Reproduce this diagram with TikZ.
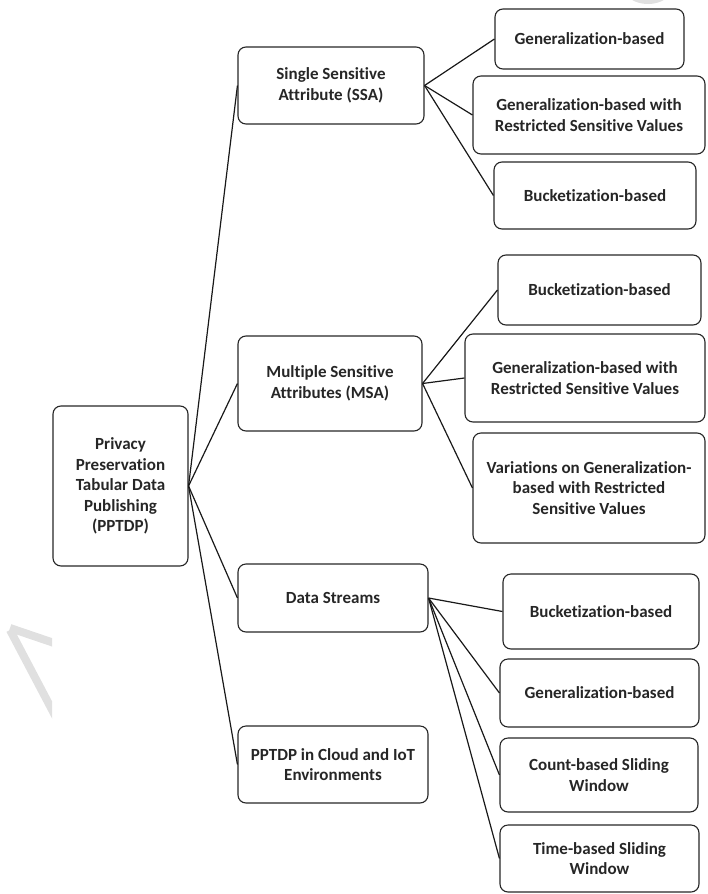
\documentclass[tikz,border=0pt]{standalone}
\usepackage{fontspec}
\setmainfont{Carlito}[Ligatures=NoCommon]
\begin{document}
\begin{tikzpicture}[x=1pt,y=-1pt,
  box/.style={draw=black!85,line width=1.1pt,rounded corners=8pt,inner sep=0pt,
    align=center,font=\fontsize{17}{20.5}\selectfont\bfseries,text=black!85},
  link/.style={draw=black!90,line width=1.2pt},
  wm/.style={draw=black!12,line width=8pt}]
\useasboundingbox (0,0) rectangle (707,894);
% faint watermark traces
\begin{scope}
\clip (0,560) rectangle (52,740);
\draw[wm] (10,630) -- (60,725);
\draw[wm] (10,628) -- (60,645);
\end{scope}
\begin{scope}
\clip (600,0) rectangle (707,12);
\draw[wm] (648,-30) circle[radius=30];
\end{scope}
% nodes
\node[box,minimum width=135pt,minimum height=160pt] (root) at (120.5,486) {Privacy\\Preservation\\Tabular Data\\Publishing\\(PPTDP)};
\node[box,minimum width=186pt,minimum height=77pt] (ssa) at (331,85.5) {Single Sensitive\\Attribute (SSA)};
\node[box,minimum width=184pt,minimum height=95pt] (msa) at (330,383.5) {Multiple Sensitive\\Attributes (MSA)};
\node[box,minimum width=190pt,minimum height=68pt] (ds) at (333,598) {Data Streams};
\node[box,minimum width=190pt,minimum height=77pt] (cloud) at (333,764.5) {PPTDP in Cloud and IoT\\Environments};
\node[box,minimum width=189pt,minimum height=60pt] (g1) at (589.5,39) {Generalization-based};
\node[box,minimum width=232pt,minimum height=78pt] (g2) at (589,115) {Generalization-based with\\Restricted Sensitive Values};
\node[box,minimum width=202pt,minimum height=67pt] (b1) at (595,195.5) {Bucketization-based};
\node[box,minimum width=203pt,minimum height=70pt] (b2) at (599.5,290) {Bucketization-based};
\node[box,minimum width=240pt,minimum height=88pt] (g3) at (585,378) {Generalization-based with\\Restricted Sensitive Values};
\node[box,minimum width=232pt,minimum height=110pt] (v) at (589,488) {Variations on Generalization-\\based with Restricted\\Sensitive Values};
\node[box,minimum width=196pt,minimum height=75pt] (b3) at (601,611.5) {Bucketization-based};
\node[box,minimum width=199pt,minimum height=68pt] (g4) at (599.5,693) {Generalization-based};
\node[box,minimum width=198pt,minimum height=74pt] (c) at (599,775) {Count-based Sliding\\Window};
\node[box,minimum width=199pt,minimum height=67pt] (t) at (599.5,858.5) {Time-based Sliding\\Window};
% connectors
\foreach \n in {ssa,msa,ds,cloud} \draw[link] (root.east) -- (\n.west);
\foreach \n in {g1,g2,b1} \draw[link] (ssa.east) -- (\n.west);
\foreach \n in {b2,g3,v} \draw[link] (msa.east) -- (\n.west);
\foreach \n in {b3,g4,c,t} \draw[link] (ds.east) -- (\n.west);
\end{tikzpicture}
\end{document}
